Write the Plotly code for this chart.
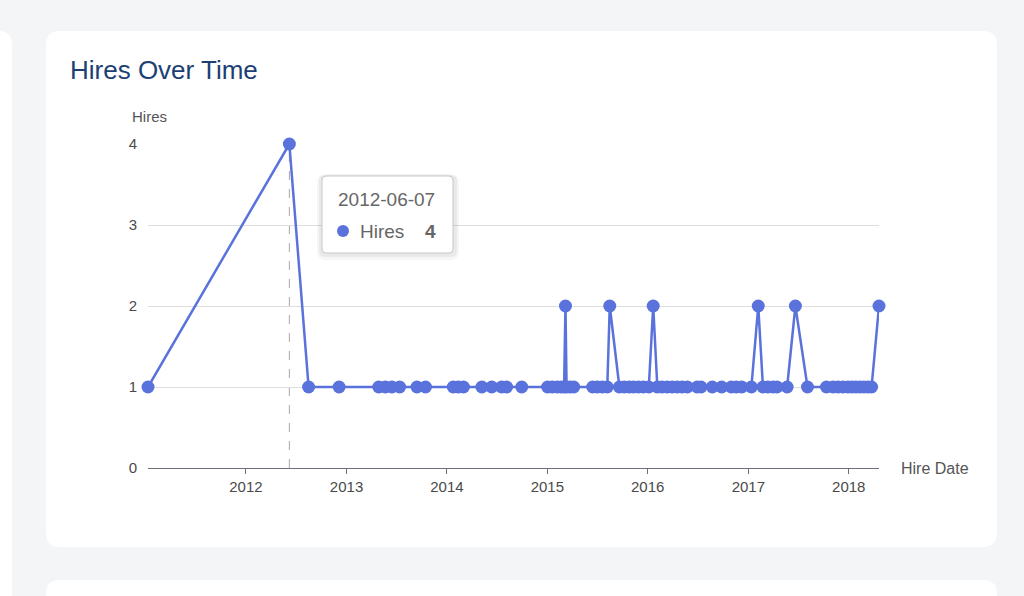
import plotly.graph_objects as go

# hire dates, with the number of hires on each date
hire_dates = [
    "2011-01-10", "2012-06-07", "2012-08-16", "2012-12-05",
    "2013-04-28", "2013-05-22", "2013-06-15", "2013-07-13", "2013-09-14", "2013-10-15",
    "2014-01-24", "2014-02-11", "2014-03-02", "2014-05-08", "2014-06-13", "2014-07-19",
    "2014-08-06", "2014-09-30",
    "2015-01-02", "2015-01-19", "2015-02-06", "2015-02-20", "2015-03-03", "2015-03-08",
    "2015-03-12", "2015-03-25", "2015-04-07", "2015-06-15", "2015-07-02", "2015-07-20",
    "2015-08-07", "2015-08-16", "2015-09-20", "2015-10-08", "2015-10-26", "2015-11-10",
    "2015-11-28", "2015-12-16",
    "2016-01-05", "2016-01-21", "2016-02-05", "2016-02-22", "2016-03-12", "2016-03-30",
    "2016-04-17", "2016-05-05", "2016-05-24", "2016-06-29", "2016-07-13", "2016-08-23",
    "2016-09-26", "2016-10-31", "2016-11-18", "2016-12-08",
    "2017-01-12", "2017-02-06", "2017-02-23", "2017-03-13", "2017-04-01", "2017-04-15",
    "2017-05-22", "2017-06-21", "2017-08-04", "2017-10-12", "2017-11-05", "2017-11-23",
    "2017-12-11", "2017-12-29",
    "2018-01-13", "2018-01-27", "2018-02-11", "2018-02-25", "2018-03-12", "2018-03-25",
    "2018-04-21",
]
hires = [
    1, 4, 1, 1,
    1, 1, 1, 1, 1, 1,
    1, 1, 1, 1, 1, 1,
    1, 1,
    1, 1, 1, 1, 1, 2,
    1, 1, 1, 1, 1, 1,
    1, 2, 1, 1, 1, 1,
    1, 1,
    1, 2, 1, 1, 1, 1,
    1, 1, 1, 1, 1, 1,
    1, 1, 1, 1,
    1, 2, 1, 1, 1, 1,
    1, 2, 1, 1, 1, 1,
    1, 1,
    1, 1, 1, 1, 1, 1,
    2,
]
year_ticks = ["2012-01-01", "2013-01-01", "2014-01-01", "2015-01-01",
              "2016-01-01", "2017-01-01", "2018-01-01"]
y_ticks = [0, 1, 2, 3, 4]

# which point the tooltip is showing
tip_i = hires.index(max(hires))
tip_date = hire_dates[tip_i]
tip_value = hires[tip_i]

W, H = 1024, 596
L, R, T, B = 148, 879, 144, 468
FONT = "Helvetica, Arial, Liberation Sans, sans-serif"
BLUE = "#5a72dc"


def px(x):
    return (x - L) / (R - L)


def py(y):
    return (B - y) / (B - T)


def rounded(x0, y0, x1, y1, r):
    # rounded rectangle path in paper units, from pixel coords
    return (f"M{px(x0 + r)},{py(y0)} L{px(x1 - r)},{py(y0)} Q{px(x1)},{py(y0)} {px(x1)},{py(y0 + r)} "
            f"L{px(x1)},{py(y1 - r)} Q{px(x1)},{py(y1)} {px(x1 - r)},{py(y1)} "
            f"L{px(x0 + r)},{py(y1)} Q{px(x0)},{py(y1)} {px(x0)},{py(y1 - r)} "
            f"L{px(x0)},{py(y0 + r)} Q{px(x0)},{py(y0)} {px(x0 + r)},{py(y0)} Z")


fig = go.Figure()
fig.add_trace(go.Scatter(
    x=hire_dates, y=hires, mode="lines+markers", name="Hires",
    line=dict(color=BLUE, width=2.5),
    marker=dict(color=BLUE, size=13),
    cliponaxis=False, hoverinfo="skip",
))

shapes = [
    # cards
    dict(type="path", path=rounded(-30, 31, 12, 660, 14), fillcolor="white", line_width=0, layer="below"),
    dict(type="path", path=rounded(46, 31, 997, 547, 14), fillcolor="white", line_width=0, layer="below"),
    dict(type="path", path=rounded(46, 580, 997, 680, 14), fillcolor="white", line_width=0, layer="below"),
    # axis pointer
    dict(type="line", xref="x", yref="paper", x0=tip_date, x1=tip_date, y0=0, y1=1,
         line=dict(color="#a8a8a8", width=1, dash="dash"), layer="below"),
    # tooltip box with a soft shadow
    dict(type="path", path=rounded(317, 174, 459, 260, 9), fillcolor="rgba(0,0,0,0.035)", line_width=0),
    dict(type="path", path=rounded(319, 175, 457, 257, 6), fillcolor="rgba(0,0,0,0.05)", line_width=0),
    dict(type="path", path=rounded(322, 176, 453, 253, 4), fillcolor="white",
         line=dict(color="#c8c8c8", width=1)),
    dict(type="circle", x0=px(337), x1=px(349), y0=py(237), y1=py(225), fillcolor=BLUE, line_width=0),
]

annotations = [
    dict(text="Hires", x=px(130), y=py(116), xanchor="left", yanchor="middle",
         font=dict(size=15, color="#555555")),
    dict(text="Hire Date", x=px(899), y=py(468), xanchor="left", yanchor="middle",
         font=dict(size=16, color="#555555")),
    dict(text=tip_date, x=px(336), y=py(199), xanchor="left", yanchor="middle",
         font=dict(size=19, color="#666666")),
    dict(text="Hires", x=px(358), y=py(231), xanchor="left", yanchor="middle",
         font=dict(size=19, color="#666666")),
    dict(text=f"<b>{tip_value}</b>", x=px(438), y=py(231), xanchor="right", yanchor="middle",
         font=dict(size=19, color="#666666")),
]
for a in annotations:
    a.update(xref="paper", yref="paper", showarrow=False)
for s in shapes:
    s.setdefault("xref", "paper")
    s.setdefault("yref", "paper")

fig.update_layout(
    width=W, height=H,
    margin=dict(l=L, r=W - R, t=T, b=H - B),
    paper_bgcolor="#f4f5f7", plot_bgcolor="rgba(0,0,0,0)",
    font=dict(family=FONT, size=15, color="#555555"),
    showlegend=False,
    title=dict(text="Hires Over Time", x=70 / W, y=1 - 70 / H, xref="container", yref="container",
               xanchor="left", yanchor="middle", font=dict(size=26, color="#1c3f74", family=FONT)),
    shapes=shapes, annotations=annotations,
)
fig.update_xaxes(
    type="date", range=[hire_dates[0], hire_dates[-1]],
    tickvals=year_ticks, tickformat="%Y",
    showgrid=False, zeroline=False,
    showline=True, linecolor="#6e7079", linewidth=1,
    ticks="outside", ticklen=5, tickcolor="#6e7079",
    tickfont=dict(size=15, color="#4a4a4a"),
)
fig.update_yaxes(
    range=[0, 4], tickvals=y_ticks,
    showgrid=True, gridcolor="#dedede", zeroline=False, showline=False,
    ticks="", ticklabelstandoff=10,
    tickfont=dict(size=15, color="#4a4a4a"),
)

# drop the page's default 8px body margin so the figure sits at the top left
fig.write_html("out.html", config={"displayModeBar": False},
               post_script="document.body.style.margin='0px';"
                           "document.body.style.background='#f4f5f7';")
